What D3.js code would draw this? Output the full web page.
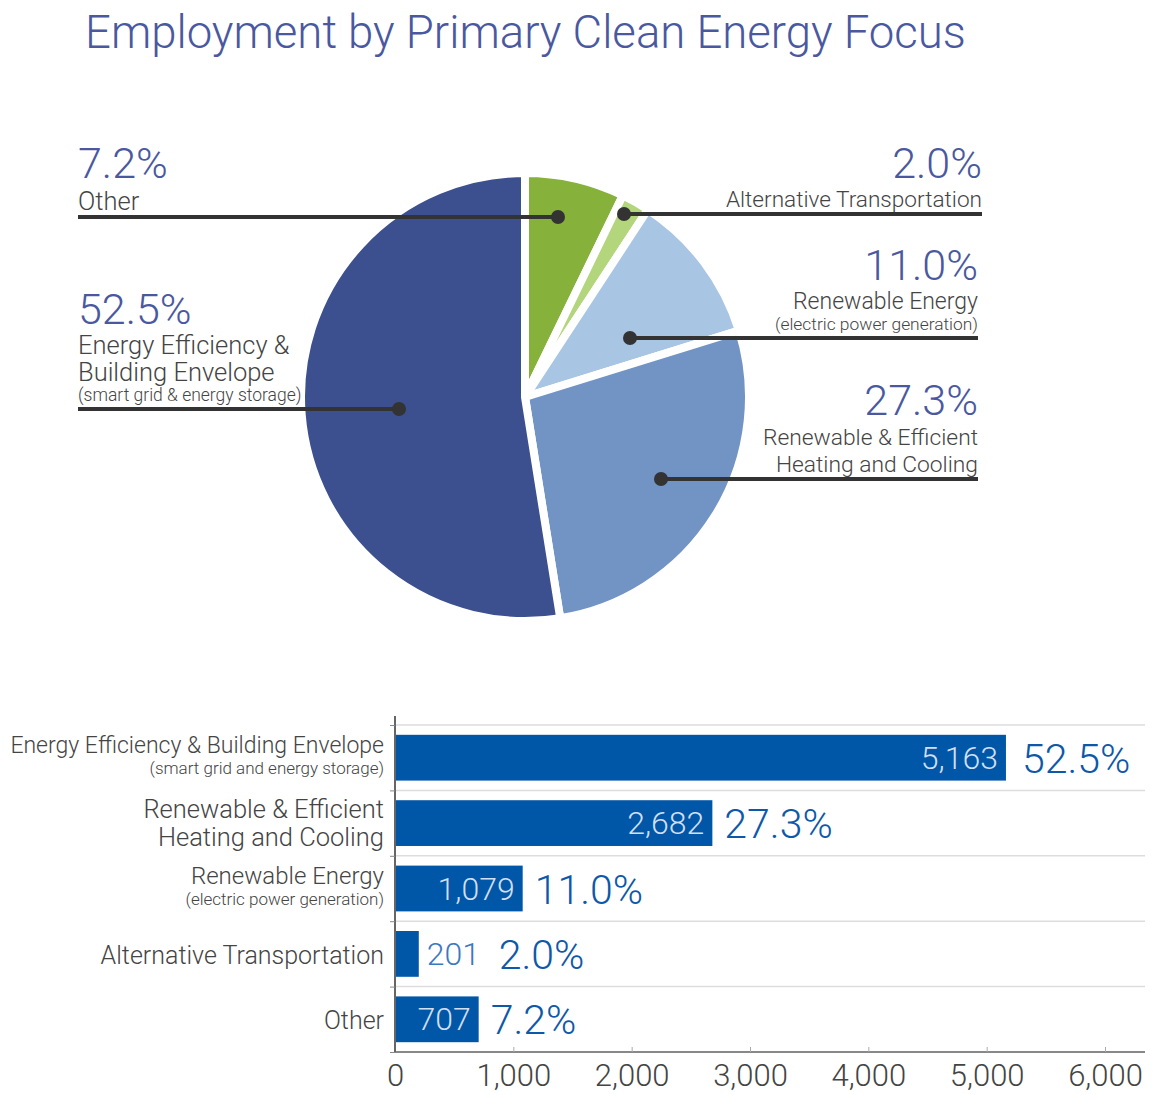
<!DOCTYPE html>
<html>
<head>
<meta charset="utf-8">
<script src="https://cdn.jsdelivr.net/npm/d3@7"></script>
<style>
  body { margin: 0; background: #fff; }
  text { font-family: Roboto, "Open Sans", sans-serif; font-weight: 300; }
</style>
</head>
<body>
<script>
// data
const categories = ["Energy Efficiency & Building Envelope", "Renewable & Efficient Heating and Cooling",
  "Renewable Energy", "Alternative Transportation", "Other"];
const jobs = [5163, 2682, 1079, 201, 707];
const shares = [52.5, 27.3, 11.0, 2.0, 7.2];
const barLabels = [["Energy Efficiency & Building Envelope", "(smart grid and energy storage)"],
  ["Renewable & Efficient", "Heating and Cooling"],
  ["Renewable Energy", "(electric power generation)"],
  ["Alternative Transportation"],
  ["Other"]];
const xTicks = [0, 1000, 2000, 3000, 4000, 5000, 6000];

// pie goes clockwise from top in this order
const pieOrder = ["Other", "Alternative Transportation", "Renewable Energy",
  "Renewable & Efficient Heating and Cooling", "Energy Efficiency & Building Envelope"];
const pieColors = ["#86b13b", "#b3d57c", "#a8c5e3", "#7194c4", "#3c4f8e"];

const width = 1159, height = 1095;
const svg = d3.select("body").append("svg").attr("width", width).attr("height", height);

svg.append("text").attr("x", 85).attr("y", 48)
  .attr("font-size", 45.5).attr("fill", "#4a58a0")
  .text("Employment by Primary Clean Energy Focus");

// ---- pie ----
const cx = 525, cy = 397, r = 224;
const pieData = pieOrder.map(name => {
  const i = categories.indexOf(name);
  return { name, value: jobs[i], share: shares[i] };
});
const pie = d3.pie().sort(null).value(d => d.value);
const arc = d3.arc().innerRadius(0).outerRadius(r);
const arcs = pie(pieData);

const pg = svg.append("g").attr("transform", `translate(${cx},${cy})`);
pg.selectAll("path").data(arcs).join("path")
  .attr("d", arc)
  .attr("fill", (d, i) => pieColors[i])
  .attr("stroke", "#fff").attr("stroke-width", 8).attr("stroke-linejoin", "round");

// leader lines: where the dot sits and where the line stops
const leaders = {
  "Other": { dot: [558, 217], endX: 78 },
  "Alternative Transportation": { dot: [624, 214], endX: 982 },
  "Renewable Energy": { dot: [630, 338], endX: 978 },
  "Renewable & Efficient Heating and Cooling": { dot: [661, 479], endX: 978 },
  "Energy Efficiency & Building Envelope": { dot: [399, 409], endX: 78 }
};
const lg = svg.append("g");
pieData.forEach(d => {
  const L = leaders[d.name];
  const [x, y] = L.dot;
  lg.append("line").attr("x1", x).attr("y1", y).attr("x2", L.endX).attr("y2", y)
    .attr("stroke", "#333").attr("stroke-width", 4);
  lg.append("circle").attr("cx", x).attr("cy", y).attr("r", 7).attr("fill", "#333");
});

// pie labels
const pieLabels = [
  { name: "Other", x: 78, anchor: "start", y: 178, lines: [["Other", 25.5, 32]] },
  { name: "Energy Efficiency & Building Envelope", x: 78, anchor: "start", y: 324,
    lines: [["Energy Efficiency &", 25.5, 30], ["Building Envelope", 25.5, 27], ["(smart grid & energy storage)", 17.5, 20]] },
  { name: "Alternative Transportation", x: 982, anchor: "end", y: 178, lines: [["Alternative Transportation", 22.6, 29]] },
  { name: "Renewable Energy", x: 978, anchor: "end", y: 280,
    lines: [["Renewable Energy", 23, 29], ["(electric power generation)", 17.4, 21]] },
  { name: "Renewable & Efficient Heating and Cooling", x: 978, anchor: "end", y: 415,
    lines: [["Renewable & Efficient", 22.8, 30], ["Heating and Cooling", 22.8, 27]] }
];
pieLabels.forEach(p => {
  const d = pieData.find(e => e.name === p.name);
  lg.append("text").attr("x", p.x).attr("y", p.y).attr("text-anchor", p.anchor)
    .attr("font-size", 43).attr("fill", "#4a58a0").text(d.share.toFixed(1) + "%");
  let y = p.y;
  p.lines.forEach(([t, fs, dy]) => {
    y += dy;
    lg.append("text").attr("x", p.x).attr("y", y).attr("text-anchor", p.anchor)
      .attr("font-size", fs).attr("fill", "#444").text(t);
  });
});

// ---- bars ----
const x = d3.scaleLinear().domain([0, 6000]).range([395, 1105]);
const y = d3.scaleBand().domain(categories).range([725, 1052]).paddingInner(0.3).paddingOuter(0.15);
const rowH = (1052 - 725) / categories.length;

const bg = svg.append("g");
// grid lines between rows
bg.selectAll("line.grid").data(categories).join("line")
  .attr("class", "grid")
  .attr("x1", 395).attr("x2", 1145)
  .attr("y1", (d, i) => 725 + i * rowH)
  .attr("y2", (d, i) => 725 + i * rowH)
  .attr("stroke", "#ddd").attr("stroke-width", 1.5);

bg.selectAll("rect").data(categories).join("rect")
  .attr("x", x(0)).attr("y", d => y(d))
  .attr("width", (d, i) => x(jobs[i]) - x(0))
  .attr("height", y.bandwidth())
  .attr("fill", "#0057a8");

bg.selectAll("text.val").data(categories).join("text")
  .attr("class", "val")
  .attr("x", (d, i) => jobs[i] < 400 ? x(jobs[i]) + 8 : x(jobs[i]) - 8)
  .attr("y", d => y(d) + y.bandwidth() / 2 + 11)
  .attr("text-anchor", (d, i) => jobs[i] < 400 ? "start" : "end")
  .attr("font-size", 32)
  .attr("fill", (d, i) => jobs[i] < 400 ? "#3a78c0" : "#d3dff2")
  .text((d, i) => d3.format(",")(jobs[i]));

bg.selectAll("text.pct").data(categories).join("text")
  .attr("class", "pct")
  .attr("x", (d, i) => x(jobs[i]) + (jobs[i] < 400 ? 80 : (i === 0 ? 16 : 12)))
  .attr("y", d => y(d) + y.bandwidth() / 2 + 15)
  .attr("font-size", 41)
  .attr("font-weight", 400)
  .attr("fill", "#0d58a8")
  .text((d, i) => shares[i].toFixed(1) + "%");

// category labels
categories.forEach((c, i) => {
  const lines = barLabels[i];
  const mid = y(c) + y.bandwidth() / 2;
  const t = bg.append("text").attr("text-anchor", "end").attr("fill", "#444");
  if (lines.length === 1) {
    t.append("tspan").attr("x", 384).attr("y", mid + 10).attr("font-size", 25).text(lines[0]);
  } else if (lines[1].startsWith("(")) {
    t.append("tspan").attr("x", 384).attr("y", mid - 5).attr("font-size", i === 0 ? 23 : 24).text(lines[0]);
    t.append("tspan").attr("x", 384).attr("y", mid + 16).attr("font-size", 17).text(lines[1]);
  } else {
    t.append("tspan").attr("x", 384).attr("y", mid - 5).attr("font-size", 25.5).text(lines[0]);
    t.append("tspan").attr("x", 384).attr("y", mid + 23).attr("font-size", 25.5).text(lines[1]);
  }
});

// axes
const xAxis = d3.axisBottom(x).tickValues(xTicks).tickSize(-5).tickPadding(12)
  .tickFormat(d3.format(","));
const ax = svg.append("g").attr("transform", "translate(0,1052)").call(xAxis);
ax.select(".domain").attr("d", "M395,0H1145").attr("stroke", "#888").attr("stroke-width", 2);
ax.selectAll(".tick line").attr("stroke", "#aaa");
ax.selectAll(".tick text").attr("font-size", 31).attr("fill", "#444")
  .attr("font-family", "Roboto, sans-serif").attr("font-weight", 300);

const yAxis = d3.axisLeft(d3.scaleLinear().domain([0, 5]).range([1052, 725]))
  .ticks(5).tickSize(5).tickFormat("");
const ay = svg.append("g").attr("transform", "translate(395,0)").call(yAxis);
ay.select(".domain").attr("d", "M0,716V1052").attr("stroke", "#666").attr("stroke-width", 2);
ay.selectAll(".tick line").attr("stroke", "#888");
</script>
</body>
</html>
